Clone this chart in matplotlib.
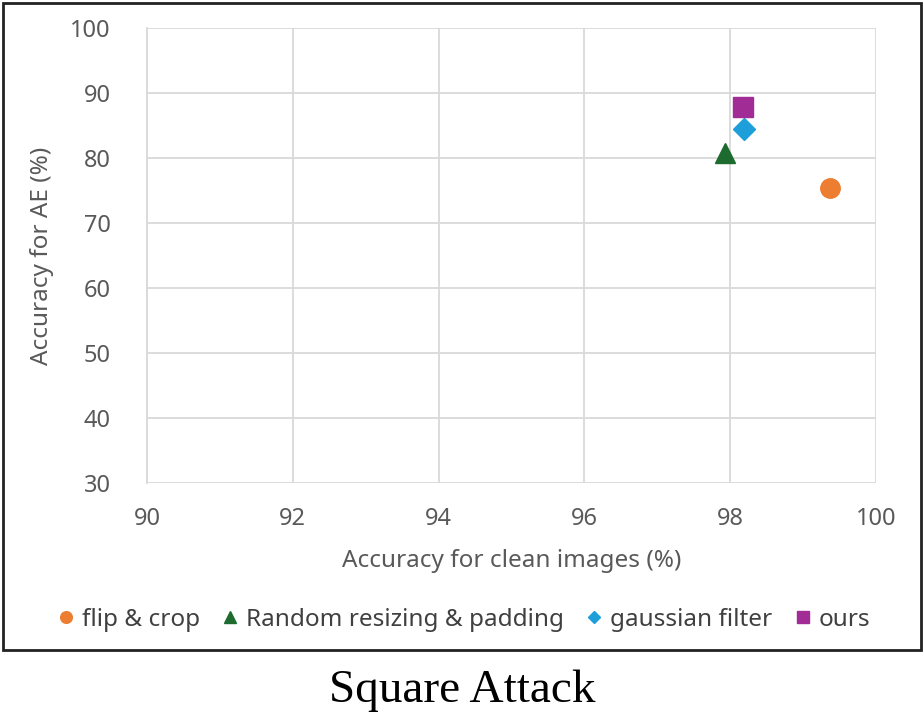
import matplotlib.pyplot as plt
from matplotlib.patches import Rectangle

# data
methods = ["flip & crop", "Random resizing & padding", "gaussian filter", "ours"]
clean_acc = [99.37, 97.93, 98.19, 98.18]
ae_acc = [75.4, 80.8, 84.5, 87.8]
markers = ["o", "^", "D", "s"]
colors = ["#ED7D31", "#1D6B2E", "#1E9FDA", "#A12C95"]
sizes = [14, 15, 11, 14]

xticks = [90, 92, 94, 96, 98, 100]
yticks = [30, 40, 50, 60, 70, 80, 90, 100]

plt.rcParams['font.family'] = ['Noto Sans', 'DejaVu Sans']

fig = plt.figure(figsize=(9.24, 7.19), dpi=100)
ax = fig.add_axes([147/924, 1-483/719, (876-147)/924, (483-28)/719])

for m, x, y, mk, c, s in zip(methods, clean_acc, ae_acc, markers, colors, sizes):
    ax.plot(x, y, linestyle="none", marker=mk, color=c, markersize=s, label=m)

ax.set_xlim(90, 100)
ax.set_ylim(30, 100)
ax.set_xticks(xticks)
ax.set_yticks(yticks)
ax.grid(True, color="#d9d9d9", linewidth=1.3)
ax.set_axisbelow(True)
for sp in ["top", "right", "bottom"]:
    ax.spines[sp].set_visible(False)
ax.spines["left"].set_color("#d9d9d9")
ax.spines["left"].set_linewidth(1.3)
ax.tick_params(axis="y", length=0, labelsize=17, colors="#595959", pad=26)
ax.tick_params(axis="x", length=0, labelsize=17, colors="#595959", pad=17)
ax.set_xlabel("Accuracy for clean images (%)", fontsize=17.5, color="#595959", labelpad=13)
ax.set_ylabel("Accuracy for AE (%)", fontsize=17.5, color="#595959", labelpad=12)

leg = fig.legend(loc="center", bbox_to_anchor=(0.502, 1-620/719), ncol=4, frameon=False,
                 fontsize=17.5, handlelength=0.7, handletextpad=0.3, columnspacing=0.9,
                 markerscale=0.6)
for t in leg.get_texts():
    t.set_color("#404040")

# outer frame of the chart
fig.patches.append(Rectangle((3/924, 1-650/719), 918/924, 647/719, transform=fig.transFigure,
                             fill=False, edgecolor="#222222", linewidth=2))

fig.text(0.5, 1-691/719, "Square Attack", ha="center", va="center", fontsize=34,
         family=["Liberation Serif", "DejaVu Serif"], color="black")

plt.savefig("out.png", dpi=100)
